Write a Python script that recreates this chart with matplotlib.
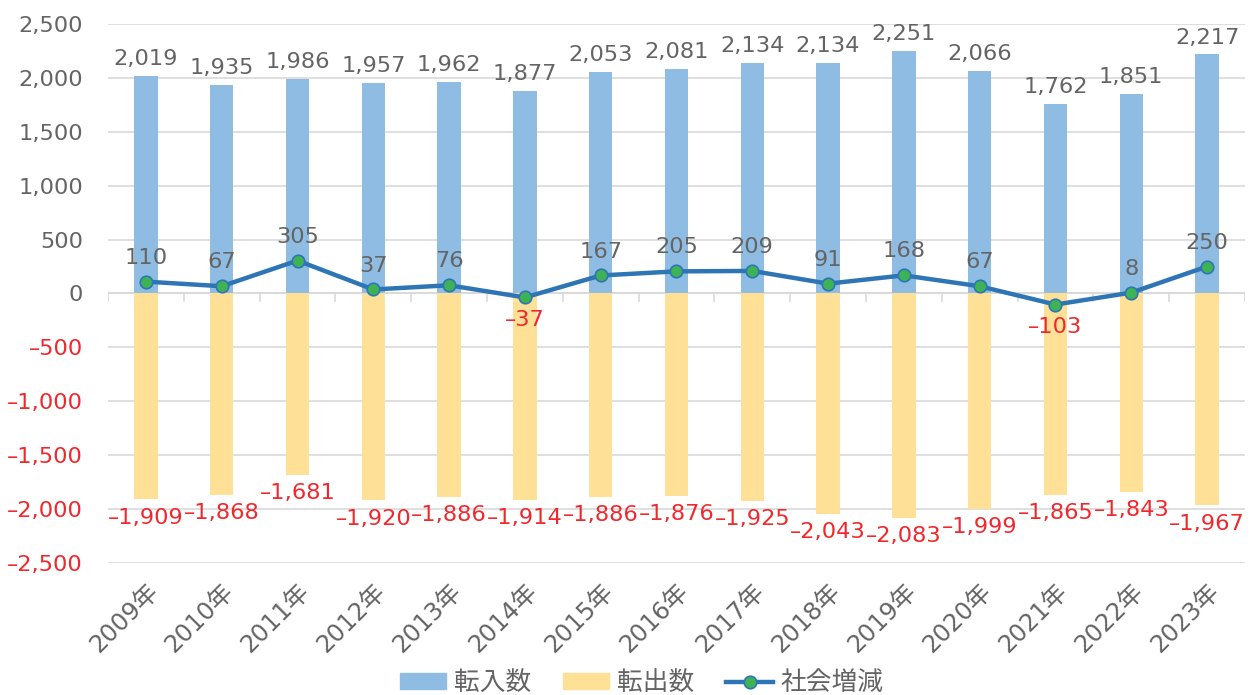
import matplotlib
matplotlib.use("Agg")
import matplotlib.pyplot as plt
import numpy as np
from matplotlib.ticker import FuncFormatter, MultipleLocator
from matplotlib.lines import Line2D
from matplotlib.patches import Patch

plt.rcParams['font.family'] = ['DejaVu Sans', 'Noto Sans CJK JP']

years = ["2009年", "2010年", "2011年", "2012年", "2013年", "2014年", "2015年", "2016年",
         "2017年", "2018年", "2019年", "2020年", "2021年", "2022年", "2023年"]
tennyu = [2019, 1935, 1986, 1957, 1962, 1877, 2053, 2081, 2134, 2134, 2251, 2066, 1762, 1851, 2217]
tenshutsu = [-1909, -1868, -1681, -1920, -1886, -1914, -1886, -1876, -1925, -2043, -2083, -1999, -1865, -1843, -1967]
shakai = [110, 67, 305, 37, 76, -37, 167, 205, 209, 91, 168, 67, -103, 8, 250]
series_names = ['転入数', '転出数', '社会増減']

BLUE = '#8FBCE3'
YELLOW = '#FEE096'
LINE = '#2E75B6'
GREEN = '#3DB356'
GRAY = '#646464'
RED = '#F0282D'

def fmt(v):
    s = f"{abs(v):,}"
    return ("\u2013" + s) if v < 0 else s

fig = plt.figure(figsize=(12.53, 6.95), dpi=100)
ax = fig.add_axes([0.0862, 0.19, 0.9074, 0.7755])

x = np.arange(len(years))
w = 0.31
ax.bar(x, tennyu, width=w, color=BLUE, zorder=2)
ax.bar(x, tenshutsu, width=w, color=YELLOW, zorder=2)
ax.plot(x, shakai, color=LINE, lw=3.2, marker='o', ms=9, mfc=GREEN, mec=LINE, mew=1.2,
        zorder=4)

fs = 16.2
for xi, v in zip(x, tennyu):
    ax.annotate(fmt(v), (xi, v), xytext=(0, 5), textcoords='offset points',
                ha='center', va='bottom', fontsize=fs, color=GRAY)
for xi, v in zip(x, tenshutsu):
    ax.annotate(fmt(v), (xi, v), xytext=(0, -6), textcoords='offset points',
                ha='center', va='top', fontsize=fs, color=RED)
for xi, v in zip(x, shakai):
    if v >= 0:
        ax.annotate(fmt(v), (xi, v), xytext=(0, 10), textcoords='offset points',
                    ha='center', va='bottom', fontsize=fs, color=GRAY)
    else:
        ax.annotate(fmt(v), (xi, v), xytext=(0, -9), textcoords='offset points',
                    ha='center', va='top', fontsize=fs, color=RED)

ax.set_xlim(-0.5, len(years) - 0.5)
ax.set_ylim(-2500, 2500)
ax.yaxis.set_major_locator(MultipleLocator(500))
ax.yaxis.set_major_formatter(FuncFormatter(lambda v, p: fmt(int(v))))
ax.grid(axis='y', color='#D9D9D9', lw=1.2, zorder=0)
ax.tick_params(axis='y', length=0, labelsize=fs, pad=18)
fig.canvas.draw()
for lab in ax.get_yticklabels():
    t = lab.get_text()
    lab.set_color(RED if t.startswith("\u2013") else GRAY)

ax.set_xticks(x)
ax.set_xticklabels(years, rotation=45, ha='right', rotation_mode='anchor',
                   fontsize=17.5, color=GRAY)
ax.tick_params(axis='x', length=0, pad=12)
for s in ax.spines.values():
    s.set_visible(False)
ax.axhline(0, color='#D9D9D9', lw=1.2, zorder=1)
for b in np.arange(-0.5, len(years), 1.0):
    ax.plot([b, b], [0, -70], color='#D9D9D9', lw=1.2, zorder=1)

handles = [Patch(color=BLUE), Patch(color=YELLOW),
           Line2D([], [], color=LINE, lw=3.2, marker='o', ms=9, mfc=GREEN, mec=LINE, mew=1.2)]
leg = fig.legend(handles, series_names, loc='center', bbox_to_anchor=(0.512, 0.017), ncol=3,
                 frameon=False, prop={'family': ['Noto Sans CJK JP'], 'size': 18.5},
                 handlelength=1.8, handleheight=0.55, columnspacing=1.25, handletextpad=0.3)
for t in leg.get_texts():
    t.set_color(GRAY)

fig.savefig("out.png", dpi=100)
